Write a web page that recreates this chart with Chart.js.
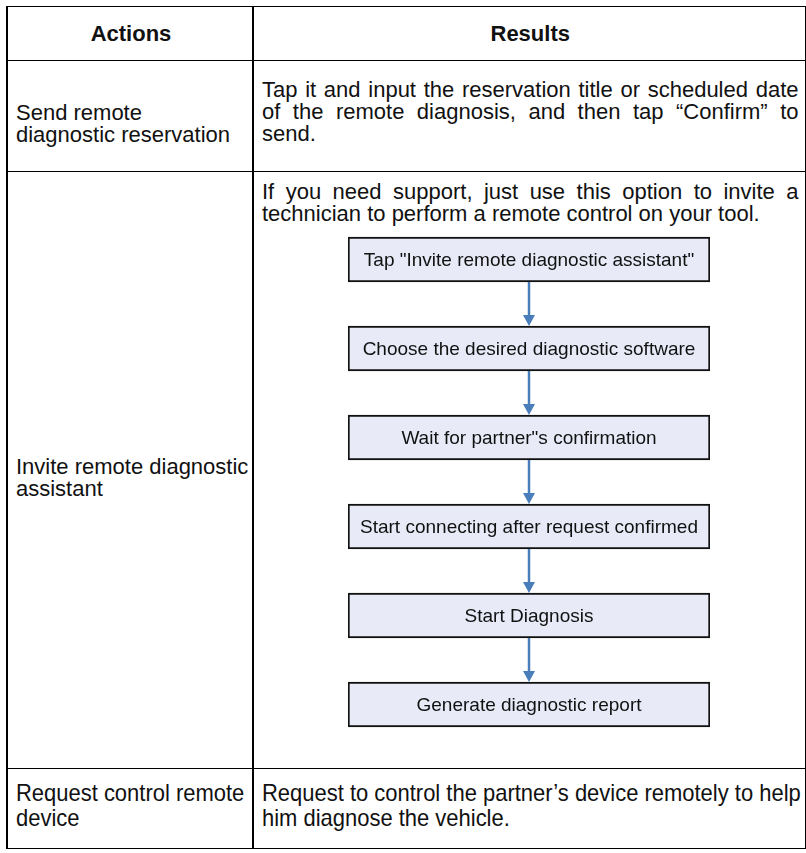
<!DOCTYPE html>
<html>
<head>
<meta charset="utf-8">
<script src="https://cdn.jsdelivr.net/npm/chart.js@4.4.1/dist/chart.umd.min.js"></script>
<style>
  html, body { margin: 0; padding: 0; background: #fff; }
  body { width: 806px; height: 853px; position: relative; overflow: hidden;
         font-family: "Liberation Sans", Arial, sans-serif; font-size: 22px; line-height: 22px; color: #111; }
  table { position: absolute; left: 6px; top: 6px; width: 798px; border-collapse: collapse; table-layout: fixed; }
  th, td { border: 1.5px solid #000; padding: 0 6px 0 8px; vertical-align: top; }
  th:first-child, td:first-child { border-left-width: 2.5px; border-right-width: 2.5px; }
  th { font-weight: bold; text-align: center; vertical-align: middle; }
  td.act { vertical-align: middle; padding-top: 16px; white-space: nowrap; }
  td.r1 { padding-top: 18px; }
  td.r2 { padding-top: 9px; }
  td.r3 { padding-top: 12px; line-height: 24px; }
  .j { text-align: justify; text-align-last: justify; white-space: nowrap; }
  .l { white-space: nowrap; }
  .n { display: inline-block; white-space: nowrap; font-size: 24px; transform: scaleX(0.915); transform-origin: 0 50%; }
  #flow { position: absolute; left: 348px; top: 215px; width: 362px; height: 534px; }
</style>
</head>
<body>
<table>
  <colgroup><col style="width:246px"><col style="width:552px"></colgroup>
  <tr style="height:54px"><th>Actions</th><th>Results</th></tr>
  <tr style="height:111px">
    <td class="act">Send remote<br>diagnostic reservation</td>
    <td class="r1">
      <div class="j">Tap it and input the reservation title or scheduled date</div>
      <div class="j">of the remote diagnosis, and then tap “Confirm” to</div>
      <div class="l">send.</div>
    </td>
  </tr>
  <tr style="height:597px">
    <td class="act">Invite remote diagnostic<br>assistant</td>
    <td class="r2">
      <div class="j">If you need support, just use this option to invite a</div>
      <div class="l">technician to perform a remote control on your tool.</div>
    </td>
  </tr>
  <tr style="height:80px">
    <td class="r3"><span class="n">Request control remote</span><br><span class="n">device</span></td>
    <td class="r3">
      <span class="n">Request to control the partner’s device remotely to help</span><br>
      <span class="n">him diagnose the vehicle.</span>
    </td>
  </tr>
</table>
<div id="flow"><canvas id="flowChart"></canvas></div>
<script>
const steps = [
    'Tap ʺInvite remote diagnostic assistantʺ',
    'Choose the desired diagnostic software',
    'Wait for partnerʺs confirmation',
    'Start connecting after request confirmed',
    'Start Diagnosis',
    'Generate diagnostic report'
];
const stepSpan = [[0, 1], [0, 1], [0, 1], [0, 1], [0, 1], [0, 1]];

const boxFill = '#e8ebf7';
const arrowColor = '#4a7ebb';

// box captions and the blue arrows between boxes
const flowDecor = {
    id: 'flowDecor',
    afterDatasetsDraw(chart) {
        const ctx = chart.ctx;
        const bars = chart.getDatasetMeta(0).data;
        ctx.save();
        bars.forEach((bar, i) => {
            const cx = (bar.x + bar.base) / 2;
            ctx.fillStyle = '#111';
            ctx.font = '19px "Liberation Sans", Arial, sans-serif';
            ctx.textAlign = 'center';
            ctx.textBaseline = 'middle';
            ctx.fillText(chart.data.labels[i], cx, bar.y + 1);

            const next = bars[i + 1];
            if (next) {
                const y0 = bar.y + bar.height / 2;
                const y1 = next.y - next.height / 2;
                ctx.strokeStyle = arrowColor;
                ctx.lineWidth = 2.5;
                ctx.beginPath();
                ctx.moveTo(cx, y0);
                ctx.lineTo(cx, y1 - 9);
                ctx.stroke();
                ctx.fillStyle = arrowColor;
                ctx.beginPath();
                ctx.moveTo(cx - 6, y1 - 11);
                ctx.lineTo(cx + 6, y1 - 11);
                ctx.lineTo(cx, y1);
                ctx.closePath();
                ctx.fill();
            }
        });
        ctx.restore();
    }
};

new Chart(document.getElementById('flowChart'), {
    type: 'bar',
    data: {
        labels: steps,
        datasets: [{
            data: stepSpan,
            backgroundColor: boxFill,
            borderColor: '#111',
            borderWidth: 2,
            borderSkipped: false,
            barThickness: 45
        }]
    },
    options: {
        indexAxis: 'y',
        responsive: true,
        maintainAspectRatio: false,
        animation: false,
        layout: { padding: 0 },
        plugins: { legend: { display: false }, tooltip: { enabled: false } },
        scales: {
            x: { display: false, min: 0, max: 1 },
            y: { display: false }
        }
    },
    plugins: [flowDecor]
});
</script>
</body>
</html>
